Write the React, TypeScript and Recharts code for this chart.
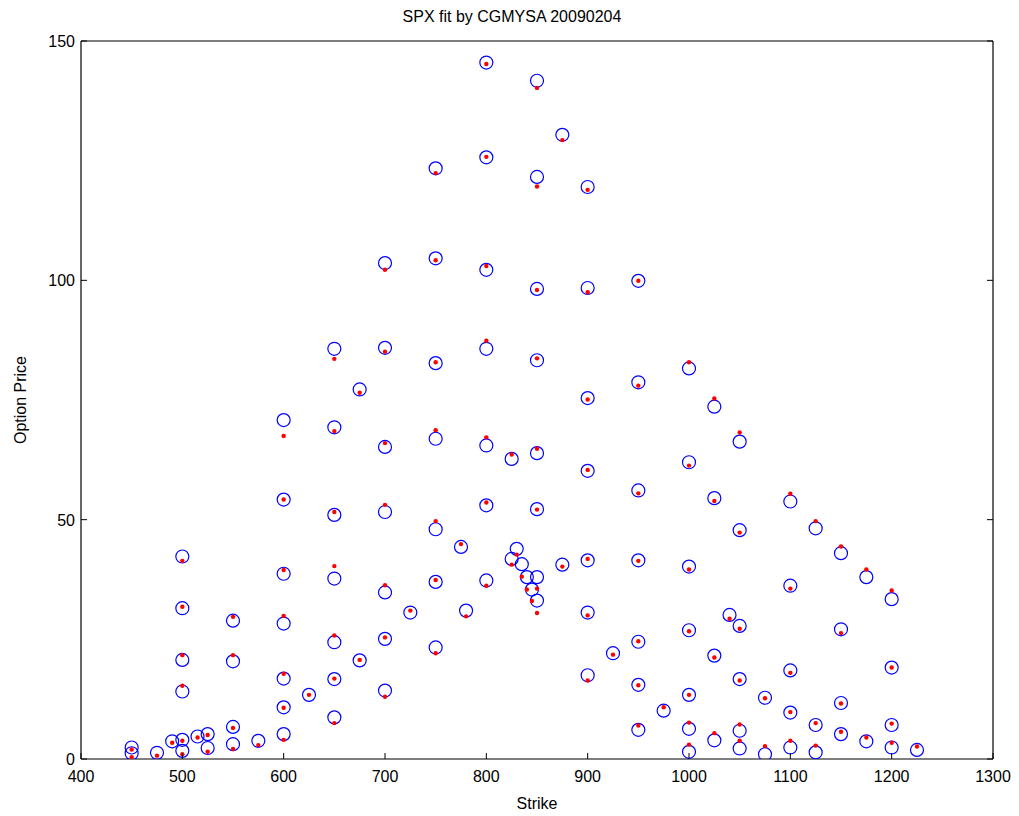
import React from 'react';
import { ScatterChart, Scatter, XAxis, YAxis } from 'recharts';

// strike, market price (blue circles), model price (red dots)
const strikes = [
  450, 450, 475, 490,
  500, 500, 500, 500, 500, 500,
  515, 525, 525,
  550, 550, 550, 550, 575,
  600, 600, 600, 600, 600, 600, 600, 625,
  650, 650, 650, 650, 650, 650, 650,
  675, 675,
  700, 700, 700, 700, 700, 700, 700, 725,
  750, 750, 750, 750, 750, 750, 750,
  775, 780,
  800, 800, 800, 800, 800, 800, 800,
  825, 825, 830, 835, 840, 845,
  850, 850, 850, 850, 850, 850, 850, 850,
  875, 875,
  900, 900, 900, 900, 900, 900, 900, 925,
  950, 950, 950, 950, 950, 950, 950, 975,
  1000, 1000, 1000, 1000, 1000, 1000, 1000,
  1025, 1025, 1025, 1025, 1040,
  1050, 1050, 1050, 1050, 1050, 1050,
  1075, 1075,
  1100, 1100, 1100, 1100, 1100,
  1125, 1125, 1125,
  1150, 1150, 1150, 1150,
  1175, 1175,
  1200, 1200, 1200, 1200, 1225,
];

const marketPrices = [
  2.4, 1.2, 1.3, 3.7,
  42.3, 31.5, 20.7, 14.1, 4.0, 1.7,
  4.7, 5.2, 2.3,
  28.9, 20.4, 6.7, 3.1, 3.8,
  70.8, 54.2, 38.7, 28.3, 16.8, 10.8, 5.2, 13.4,
  85.7, 69.3, 51.0, 37.7, 24.4, 16.7, 8.7,
  77.2, 20.6,
  103.6, 85.9, 65.2, 51.6, 34.8, 25.1, 14.3, 30.6,
  123.4, 104.6, 82.7, 66.9, 48.0, 37.0, 23.3,
  44.3, 31.0,
  145.5, 125.7, 102.2, 85.7, 65.5, 53.0, 37.3,
  62.7, 41.8, 43.9, 40.7, 38.0, 35.4,
  141.7, 121.6, 98.2, 83.3, 63.9, 52.2, 38.0, 33.1,
  130.4, 40.6,
  119.5, 98.4, 75.4, 60.2, 41.5, 30.6, 17.5, 22.1,
  99.9, 78.7, 56.1, 41.5, 24.5, 15.5, 6.1, 10.1,
  81.6, 62.0, 40.2, 26.9, 13.4, 6.3, 1.5,
  73.6, 54.5, 21.6, 3.9, 30.1,
  66.3, 47.8, 27.8, 16.7, 5.9, 2.2,
  12.8, 1.0,
  53.8, 36.2, 18.5, 9.7, 2.4,
  48.2, 7.1, 1.4,
  43.0, 27.1, 11.7, 5.2,
  38.0, 3.7,
  33.4, 19.1, 7.1, 2.4, 1.9,
];

const modelPrices = [
  2.0, 0.4, 0.7, 3.4,
  41.4, 31.8, 21.7, 15.3, 3.8, 1.0,
  4.5, 5.0, 1.5,
  29.7, 21.7, 6.5, 2.1, 2.9,
  67.5, 54.2, 39.5, 29.9, 17.8, 10.7, 4.0, 13.4,
  83.6, 68.5, 51.6, 40.3, 25.8, 16.8, 7.5,
  76.5, 20.7,
  102.2, 85.1, 66.0, 53.1, 36.3, 25.4, 13.0, 31.0,
  122.4, 104.2, 82.9, 68.7, 49.7, 37.4, 22.1,
  44.9, 29.8,
  145.2, 125.8, 103.0, 87.4, 67.2, 53.6, 36.2,
  63.6, 40.6, 42.7, 38.1, 35.4, 33.0,
  140.2, 119.6, 98.0, 83.7, 64.8, 52.1, 35.6, 30.5,
  129.3, 40.2,
  118.9, 97.5, 75.1, 60.4, 41.8, 30.0, 16.4, 21.8,
  99.9, 78.0, 55.5, 41.4, 24.6, 15.4, 7.0, 10.8,
  82.9, 61.3, 39.6, 26.7, 13.4, 7.6, 3.0,
  75.3, 53.9, 21.2, 5.4, 29.3,
  68.2, 47.3, 27.2, 16.4, 7.2, 3.8,
  12.7, 2.7,
  55.4, 35.6, 18.0, 9.8, 3.8,
  49.7, 7.5, 2.8,
  44.4, 26.3, 11.6, 5.7,
  39.6, 4.5,
  35.2, 19.1, 7.4, 3.4, 2.6,
];

const xTicks = [400, 500, 600, 700, 800, 900, 1000, 1100, 1200, 1300];
const yTicks = [0, 50, 100, 150];

const marketData = strikes.map((s, i) => ({ strike: s, price: marketPrices[i] }));
const modelData = strikes.map((s, i) => ({ strike: s, price: modelPrices[i] }));

const FONT = '"Liberation Sans", Arial, sans-serif';
const FS = 16;
const TICK_LEN = 6;

// MATLAB-style ticks: marks point into the plot box
const BottomTick = (props: any) => {
  const { x, y, payload } = props;
  return (
    <g>
      <line x1={x} x2={x} y1={y} y2={y - TICK_LEN} stroke="#000" />
      <text x={x} y={y + 23} textAnchor="middle" fontSize={FS} fontFamily={FONT} fill="#000">
        {payload.value}
      </text>
    </g>
  );
};

const TopTick = (props: any) => {
  const { x, y } = props;
  return <line x1={x} x2={x} y1={y} y2={y + TICK_LEN} stroke="#000" />;
};

const LeftTick = (props: any) => {
  const { x, y, payload } = props;
  return (
    <g>
      <line x1={x} x2={x + TICK_LEN} y1={y} y2={y} stroke="#000" />
      <text x={x - 6} y={y + 6} textAnchor="end" fontSize={FS} fontFamily={FONT} fill="#000">
        {payload.value}
      </text>
    </g>
  );
};

const RightTick = (props: any) => {
  const { x, y } = props;
  return <line x1={x} x2={x - TICK_LEN} y1={y} y2={y} stroke="#000" />;
};

const OpenCircle = (props: any) => (
  <circle cx={props.cx} cy={props.cy} r={6.5} fill="none" stroke="#0000FF" strokeWidth={1.2} />
);

const RedDot = (props: any) => (
  <circle cx={props.cx} cy={props.cy} r={2.2} fill="#FF0000" />
);

const axisLine = { stroke: '#000', strokeWidth: 1.2 };

export default function App() {
  return (
    <div style={{ position: 'absolute', left: 0, top: 0, width: 1019, height: 816, background: '#fff', fontFamily: FONT }}>
      <div
        style={{
          position: 'absolute',
          top: 8,
          left: 0,
          width: 1024,
          textAlign: 'center',
          fontSize: FS,
          color: '#000',
        }}
      >
        SPX fit by CGMYSA 20090204
      </div>
      <ScatterChart width={1019} height={816} margin={{ top: 40, right: 25, bottom: 0, left: 0 }}>
        <XAxis
          xAxisId={0}
          type="number"
          dataKey="strike"
          domain={[400, 1300]}
          ticks={xTicks}
          allowDataOverflow
          height={57}
          tickSize={0}
          tickMargin={0}
          axisLine={axisLine}
          tickLine={false}
          tick={BottomTick}
          label={{ value: 'Strike', position: 'insideBottom', offset: 7, fill: '#000', fontSize: FS, fontFamily: FONT }}
        />
        <XAxis
          xAxisId="top"
          orientation="top"
          type="number"
          domain={[400, 1300]}
          ticks={xTicks}
          allowDataOverflow
          height={1}
          tickSize={0}
          tickMargin={0}
          axisLine={axisLine}
          tickLine={false}
          tick={TopTick}
        />
        <YAxis
          yAxisId={0}
          type="number"
          dataKey="price"
          domain={[0, 150]}
          ticks={yTicks}
          allowDataOverflow
          width={81}
          tickSize={0}
          tickMargin={0}
          axisLine={axisLine}
          tickLine={false}
          tick={LeftTick}
          label={{
            value: 'Option Price',
            angle: -90,
            position: 'insideLeft',
            offset: 20,
            fill: '#000',
            fontSize: FS,
            fontFamily: FONT,
            style: { textAnchor: 'middle' },
          }}
        />
        <YAxis
          yAxisId="right"
          orientation="right"
          type="number"
          domain={[0, 150]}
          ticks={yTicks}
          allowDataOverflow
          width={1}
          tickSize={0}
          tickMargin={0}
          axisLine={axisLine}
          tickLine={false}
          tick={RightTick}
        />
        <Scatter data={marketData} shape={OpenCircle} isAnimationActive={false} />
        <Scatter data={modelData} shape={RedDot} isAnimationActive={false} />
      </ScatterChart>
    </div>
  );
}
